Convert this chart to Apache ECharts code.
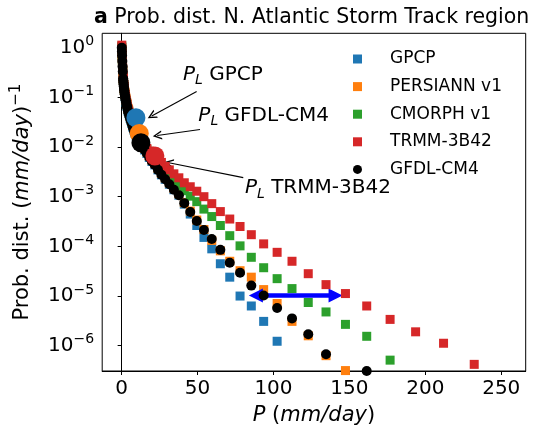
<!DOCTYPE html>
<html>
<head>
<meta charset="utf-8">
<script src="https://cdn.jsdelivr.net/npm/echarts@6/dist/echarts.min.js"></script>
<style>
  html, body { margin: 0; padding: 0; background: #fff; }
  #chart { width: 539px; height: 431px; }
</style>
</head>
<body>
<div id="chart"></div>
<script>
// bin centres, mm/day
var binP = [0.1, 0.2, 0.3, 0.45, 0.6, 0.75, 0.99, 1.09, 1.19, 1.30,
  1.43, 1.56, 1.71, 1.87, 2.05, 2.25, 2.46, 2.70, 2.95, 3.24,
  3.54, 3.88, 4.25, 4.65, 5.10, 5.58, 6.11, 6.70, 7.33, 8.03,
  8.79, 9.63, 10.55, 11.55, 12.65, 13.86, 15.18, 16.62, 18.20, 19.93,
  21.83, 23.91, 26.19, 28.68, 31.41, 34.40, 37.68, 41.26, 45.19, 49.49,
  54.20, 59.36, 65.01, 71.20, 77.98, 85.40, 93.53, 102.4, 112.2, 122.9,
  134.6, 147.4, 161.4, 176.8, 193.6, 212.0, 232.2];

// log10 of probability density (null = no marker)
var gpcpLog = [0.00, -0.08, -0.16, -0.27, -0.38, -0.48, -0.62, -0.66, -0.70, -0.74,
  -0.78, -0.82, -0.86, -0.90, -0.94, -0.98, -1.02, -1.06, -1.10, -1.14,
  -1.18, -1.23, -1.28, -1.32, -1.37, -1.42, -1.47, -1.53, -1.60, -1.66,
  -1.72, -1.78, -1.83, -1.88, -1.93, -1.99, -2.06, -2.13, -2.21, -2.29,
  -2.36, -2.46, -2.56, -2.65, -2.75, -2.86, -2.97, -3.15, -3.35, -3.58,
  -3.82, -4.05, -4.35, -4.62, -5.00, -5.20, -5.51, -5.91, null, null,
  null, null, null, null, null, null, null];
var persiannLog = [0.00, -0.08, -0.16, -0.27, -0.38, -0.48, -0.62, -0.66, -0.70, -0.74,
  -0.78, -0.82, -0.86, -0.84, -0.88, -0.92, -0.96, -1.00, -1.04, -1.08,
  -1.12, -1.17, -1.22, -1.26, -1.31, -1.36, -1.41, -1.47, -1.54, -1.60,
  -1.66, -1.72, -1.77, -1.82, -1.87, -1.96, -2.03, -2.10, -2.18, -2.26,
  -2.33, -2.43, -2.53, -2.62, -2.72, -2.83, -2.94, -3.12, -3.29, -3.47,
  -3.66, -3.88, -4.09, -4.30, -4.49, -4.62, -4.87, -5.15, -5.51, -5.80,
  -6.20, -6.50, null, null, null, null, null];
var cmorphLog = [0.03, -0.05, -0.13, -0.24, -0.35, -0.45, -0.59, -0.63, -0.67, -0.71,
  -0.75, -0.79, -0.83, -0.87, -0.91, -0.95, -0.99, -1.03, -1.07, -1.11,
  -1.15, -1.20, -1.25, -1.29, -1.34, -1.39, -1.44, -1.50, -1.57, -1.63,
  -1.69, -1.75, -1.80, -1.85, -1.90, -1.96, -2.01, -2.05, -2.10, -2.16,
  -2.22, -2.30, -2.40, -2.50, -2.60, -2.70, -2.79, -2.88, -2.99, -3.10,
  -3.25, -3.40, -3.58, -3.785, -3.99, -4.22, -4.43, -4.65, -4.85, -5.13,
  -5.32, -5.57, -5.81, -6.29, null, null, null];
var trmmLog = [0.05, -0.03, -0.11, -0.22, -0.33, -0.43, -0.58, -0.62, -0.66, -0.70,
  -0.74, -0.78, -0.82, -0.86, -0.90, -0.94, -0.98, -1.02, -1.06, -1.10,
  -1.14, -1.19, -1.24, -1.28, -1.33, -1.38, -1.43, -1.49, -1.56, -1.62,
  -1.68, -1.74, -1.78, -1.82, -1.87, -1.92, -1.98, -2.03, -2.08, -2.13,
  -2.18, -2.24, -2.31, -2.39, -2.46, -2.54, -2.62, -2.72, -2.80, -2.89,
  -3.00, -3.14, -3.30, -3.45, -3.60, -3.765, -3.95, -4.12, -4.30, -4.55,
  -4.77, -4.95, -5.20, -5.47, -5.72, -5.95, -6.375];
var gfdlLog = [0.00, -0.08, -0.16, -0.27, -0.38, -0.48, -0.62, -0.66, -0.70, -0.74,
  -0.78, -0.82, -0.86, -0.90, -0.94, -0.98, -1.02, -1.06, -1.10, -1.14,
  -1.18, -1.23, -1.28, -1.32, -1.37, -1.42, -1.47, -1.53, -1.60, -1.66,
  -1.72, -1.78, -1.83, -1.88, -1.93, -1.99, -2.06, -2.13, -2.21, -2.29,
  -2.36, -2.46, -2.56, -2.65, -2.75, -2.86, -2.97, -3.13, -3.31, -3.49,
  -3.67, -3.85, -4.07, -4.33, -4.53, -4.79, -4.99, -5.24, -5.45, -5.77,
  -6.17, null, -6.51, null, null, null, null];

var seriesNames = ['GPCP', 'PERSIANN v1', 'CMORPH v1', 'TRMM-3B42', 'GFDL-CM4'];
var seriesColors = ['#1f77b4', '#ff7f0e', '#2ca02c', '#d62728', '#000000'];

// P_L markers (big circles): P and log10 density
var plNames = ['GPCP', 'PERSIANN v1', 'GFDL-CM4', 'TRMM-3B42'];
var plColors = ['#1f77b4', '#ff7f0e', '#000000', '#d62728'];
var plP = [9.4, 11.6, 12.7, 21.9];
var plLog = [-1.41, -1.73, -1.915, -2.18];

// annotation texts and arrows (data coords)
var noteText = ['GPCP', 'GFDL-CM4', 'TRMM-3B42'];
var noteAt = [[40.4, 0.284], [50.5, 0.0429], [81.2, 0.00148]];
var noteFrom = [[49.4, 0.1315], [51.6, 0.0225], [80.1, 0.00242]];
var noteTo = [[19.8, 0.0421], [23.45, 0.01698], [31.1, 0.0048]];

// blue double arrow
var spanP = [88.4, 140.9];
var spanY = 1.03e-5;

var FONT = 'DejaVu Sans';

function toPoints(logs) {
  var out = [];
  for (var i = 0; i < logs.length; i++) {
    if (logs[i] !== null) out.push([binP[i], Math.pow(10, logs[i])]);
  }
  return out;
}

var chart = echarts.init(document.getElementById('chart'), null, { renderer: 'canvas' });

var series = [];
var logs = [gpcpLog, persiannLog, cmorphLog, trmmLog, gfdlLog];
for (var k = 0; k < seriesNames.length; k++) {
  series.push({
    name: seriesNames[k],
    type: 'scatter',
    symbol: k == 4 ? 'circle' : 'rect',
    symbolSize: k == 4 ? 10 : 9,
    itemStyle: { color: seriesColors[k], opacity: 1 },
    data: toPoints(logs[k]),
    silent: true,
    z: 2 + k
  });
}

var chevron = 'path://M0,10 L5,0 L10,10 L8.4,10 L5,3.2 L1.6,10 Z';
var arrowLines = [];
for (var a = 0; a < noteFrom.length; a++) {
  arrowLines.push([
    { coord: noteFrom[a], symbol: 'none' },
    { coord: noteTo[a], symbol: chevron, symbolSize: 9 }
  ]);
}
arrowLines.push([
  { coord: [spanP[0], spanY], symbol: 'triangle', symbolSize: 14,
    lineStyle: { color: '#0000ff', width: 4.5, type: 'solid' } },
  { coord: [spanP[1], spanY], symbol: 'triangle', symbolSize: 14 }
]);

var notePoints = [];
for (var n = 0; n < noteText.length; n++) {
  notePoints.push({ coord: noteAt[n], value: noteText[n] });
}

series.push({
  name: 'PL',
  type: 'scatter',
  symbol: 'circle',
  symbolSize: 19,
  silent: true,
  z: 10,
  itemStyle: { opacity: 1 },
  data: plP.map(function (p, i) {
    return { value: [p, Math.pow(10, plLog[i])], itemStyle: { color: plColors[i], opacity: 1 } };
  }),
  markLine: {
    silent: true,
    animation: false,
    symbol: ['none', 'none'],
    label: { show: false },
    lineStyle: { color: '#000', width: 1.1, type: 'solid' },
    emphasis: { disabled: true },
    data: arrowLines
  },
  markPoint: {
    silent: true,
    symbol: 'circle',
    symbolSize: 0,
    label: {
      show: true,
      position: 'right',
      distance: 0,
      color: '#000',
      fontFamily: FONT,
      fontSize: 20,
      lineHeight: 26,
      formatter: function (p) { return '{i|P}{s|L} ' + p.value; },
      rich: {
        i: { fontFamily: FONT, fontSize: 20, fontStyle: 'italic', lineHeight: 26, color: '#000' },
        s: { fontFamily: FONT, fontSize: 14, fontStyle: 'italic', lineHeight: 14, verticalAlign: 'bottom', color: '#000' }
      }
    },
    data: notePoints
  }
});

var option = {
  animation: false,
  backgroundColor: '#fff',
  textStyle: { fontFamily: FONT },
  title: {
    text: '{b|a} Prob. dist. N. Atlantic Storm Track region',
    left: 89,
    top: 2,
    textStyle: {
      fontFamily: FONT, fontSize: 20.5, fontWeight: 'normal', color: '#000',
      rich: { b: { fontFamily: FONT, fontSize: 20.5, fontWeight: 'bold', color: '#000' } }
    }
  },
  legend: {
    orient: 'vertical',
    left: 348,
    top: 45,
    itemWidth: 55,
    itemHeight: 9,
    itemGap: 9.6,
    selectedMode: false,
    textStyle: { fontFamily: FONT, fontSize: 17, color: '#000', lineHeight: 18 },
    data: seriesNames.map(function (name, i) {
      return { name: name, icon: i == 4 ? 'circle' : 'path://M0,0 H10 V10 H0 Z' };
    })
  },
  grid: {
    left: 102.2, right: 13.3, top: 33.3, bottom: 58.3,
    show: true, borderColor: '#000', borderWidth: 1, backgroundColor: 'transparent'
  },
  xAxis: {
    type: 'value',
    min: -12.8,
    max: 266.1,
    splitNumber: 5,
    name: '{i|P} ({i|mm/day})',
    nameLocation: 'middle',
    nameGap: 34,
    nameTextStyle: {
      fontFamily: FONT, fontSize: 21, color: '#000',
      rich: { i: { fontFamily: FONT, fontSize: 21, fontStyle: 'italic', color: '#000' } }
    },
    axisLine: { show: true, lineStyle: { color: '#000', width: 1 } },
    axisTick: { show: true, length: 4, lineStyle: { color: '#000' } },
    axisLabel: { fontFamily: FONT, fontSize: 20, color: '#000', margin: 8, showMinLabel: false, showMaxLabel: false },
    splitLine: { show: false }
  },
  yAxis: {
    type: 'log',
    logBase: 10,
    min: 3.1e-7,
    max: 1.943,
    name: 'Prob. dist. ({i|mm/day}){s|\u22121}',
    nameLocation: 'middle',
    nameRotate: 90,
    nameGap: 66,
    nameTextStyle: {
      fontFamily: FONT, fontSize: 21, color: '#000', lineHeight: 28,
      rich: {
        i: { fontFamily: FONT, fontSize: 21, fontStyle: 'italic', color: '#000', lineHeight: 28 },
        s: { fontFamily: FONT, fontSize: 15, color: '#000', lineHeight: 15, verticalAlign: 'top' }
      }
    },
    axisLine: { show: true, lineStyle: { color: '#000', width: 1 } },
    axisTick: { show: true, length: 4, lineStyle: { color: '#000' } },
    axisLabel: {
      margin: 8,
      showMinLabel: false,
      showMaxLabel: false,
      formatter: function (v) {
        var lg = Math.log10(v);
        var e = Math.round(lg);
        if (Math.abs(lg - e) > 1e-6) return '';
        return '{b|10}{s|' + String(e).replace('-', '\u2212') + '}';
      },
      rich: {
        b: { fontFamily: FONT, fontSize: 20, color: '#000', lineHeight: 26 },
        s: { fontFamily: FONT, fontSize: 14, color: '#000', lineHeight: 14, verticalAlign: 'top' }
      }
    },
    splitLine: { show: false },
    minorTick: { show: false }
  },
  series: series
};

chart.setOption(option);
</script>
</body>
</html>
